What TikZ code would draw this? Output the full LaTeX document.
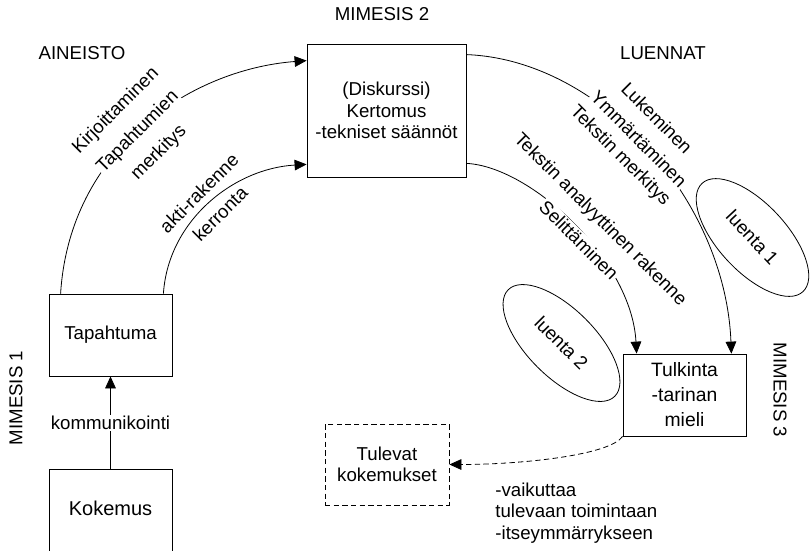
\documentclass[tikz,border=0pt]{standalone}
\usepackage{fontspec}
\setmainfont{Liberation Sans}
\usetikzlibrary{positioning, shapes.geometric, arrows.meta}

\begin{document}
\begin{tikzpicture}[x=0.75pt, y=-0.75pt, line width=0.6pt,
		font=\fontsize{14}{16}\selectfont,
		box/.style={rectangle, draw, align=center, inner sep=0pt},
		arr/.style={-{Triangle[length=9pt, width=8pt]}},
		dashline/.style={dash pattern=on 4pt off 2.5pt},
		lbl/.style={fill=white, inner sep=1pt},
		luenta/.style={ellipse, draw, minimum width=111pt, minimum height=51pt}]
			\useasboundingbox (0,0) rectangle (810,550);
			\clip (0,0) rectangle (810,550);
			% Define the boxes
			\node (disk) [box, minimum width=119.25pt, minimum height=99.75pt] at (386.5,110.5) {(Diskurssi)\\Kertomus\\-tekniset säännöt};
			\node (tapahtuma) [box, minimum width=92.25pt, minimum height=61.5pt] at (110.5,335) {Tapahtuma};
			\node (kokemus) [box, anchor=north, minimum width=92.25pt, inner ysep=24pt, text depth=20pt, font=\fontsize{15}{18}\selectfont] at (110.5,469) {Kokemus};
			\node (tulkinta) [box, minimum width=92.25pt, minimum height=61.5pt, font=\fontsize{14.5}{18.75}\selectfont] at (684.5,395) {Tulkinta\\-tarinan\\mieli};
			\node (tulevat) [box, dashline, minimum width=93pt, minimum height=60.75pt, font=\fontsize{14}{15.75}\selectfont] at (387,464.5) {Tulevat\\kokemukset};
			\node (luenta1) [luenta, rotate=-47] at (752.5,237.5) {luenta 1};
			\node (luenta2) [luenta, rotate=-45, minimum width=113pt] at (561.5,343) {luenta 2};
			% Headings
			\node (mim2) at (382,14) {MIMESIS 2};
			\node (aine) at (82,53) {AINEISTO};
			\node (luen) at (663,53) {LUENNAT};
			\node (mim1) [rotate=90] at (16,398) {MIMESIS 1};
			\node (mim3) [rotate=-90] at (780,390) {MIMESIS 3};
			\node (vaik) [align=left, anchor=west, inner sep=0pt] at (495,513) {-vaikuttaa\\tulevaan toimintaan\\-itseymmärrykseen};
			% Connect the nodes
			\draw [arr] (kokemus) -- node[lbl] (komm) {kommunikointi} (tapahtuma);
			\draw [arr] ([xshift=9pt]tapahtuma.north west) .. controls +(9,-144) and +(-117,9) .. ([yshift=-12.75pt]disk.north west);
			\draw [arr] ([xshift=-6.75pt]tapahtuma.north east) .. controls +(5,-74) and +(-72,4) .. ([yshift=9.75pt]disk.south west);
			\draw [arr] ([yshift=-8.25pt]disk.north east) .. controls +(134,5) and +(-6,-154) .. ([xshift=-11.25pt]tulkinta.north east);
			\draw [arr] ([yshift=10.5pt]disk.south east) .. controls +(64,3) and +(-5,-94) .. ([xshift=10.5pt]tulkinta.north west);
			\draw [arr, dashline] (tulkinta.south west) .. controls +(-13,19) and +(71,0) .. (tulevat.east);
			% Labels on the arcs
			\node (kirj) [lbl, rotate=45] at (116,111) {Kirjoittaminen};
			\node (tapm) [lbl, rotate=45] at (138,132) {Tapahtumien};
			\node (merk) [lbl, rotate=45] at (159,153) {merkitys};
			\node (akti) [lbl, rotate=45] at (199,193) {akti-rakenne};
			\node (kerr) [lbl, rotate=45] at (220,214) {kerronta};
			\node (luke) [lbl, rotate=-45] at (657,118) {Lukeminen};
			\node (ymma) [lbl, rotate=-45] at (639,139) {Ymmärtäminen};
			\node (tmerk) [lbl, rotate=-45] at (620,156) {Tekstin merkitys};
			\node (analy) [lbl, rotate=-45] at (600,220) {Tekstin analyyttinen rakenne};
			\node (selit) [lbl, rotate=-45] at (579,240) {Selittäminen};
		\end{tikzpicture}
\end{document}
